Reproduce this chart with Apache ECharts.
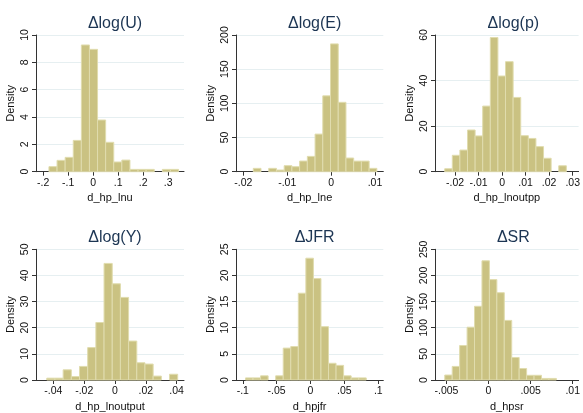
<!DOCTYPE html>
<html>
<head>
<meta charset="utf-8">
<script src="https://cdn.jsdelivr.net/npm/echarts@6/dist/echarts.min.js"></script>
<style>
html,body{margin:0;padding:0;background:#fff;}
#c{width:583px;height:413px;}
</style>
</head>
<body>
<div id="c"></div>
<script>
// ---- data ----
const titles = ['\u0394log(U)', '\u0394log(E)', '\u0394log(p)', '\u0394log(Y)', '\u0394JFR', '\u0394SR'];
const xNames = ['d_hp_lnu', 'd_hp_lne', 'd_hp_lnoutpp', 'd_hp_lnoutput', 'd_hpjfr', 'd_hpsr'];

// histogram bins: first edge and width per panel
const binStart = [-0.1772, -0.01773, -0.02438, -0.0443, -0.0960, -0.00520];
const binWidth = [0.0324, 0.00176, 0.00323, 0.005313, 0.01114, 0.000884];

// densities per bin
const densU = [0.37, 0.83, 1.05, 2.29, 9.27, 8.95, 3.78, 2.15, 0.71, 0.85, 0.17, 0.17, 0.17, 0, 0.17, 0.17];
const densE = [4.9, 0, 4.9, 2.4, 8.8, 7.3, 15.6, 22.4, 55, 111, 187, 101.5, 20, 15.5, 15.5, 4.9];
const densP = [1.3, 7.2, 9.5, 18.3, 15.7, 28.8, 58.9, 42, 48.3, 32.6, 15.8, 14.6, 11, 5.9, 0, 2.6];
const densY = [0.7, 0.7, 3.9, 1.3, 5.2, 12.4, 22, 44.6, 36.8, 31.6, 14.9, 6.6, 6.1, 1.5, 0, 2.2];
const densJFR = [0.4, 0.4, 0.8, 0, 0.8, 6.1, 6.4, 16.6, 23.3, 19.4, 10.2, 3.2, 2.8, 0.8, 0.4, 0.4];
const densSR = [9.5, 26, 66, 101, 141, 228, 192, 167, 114, 43, 22, 9, 9, 3, 3];
const densities = [densU, densE, densP, densY, densJFR, densSR];

// axes
const xTicks = [
  [-0.2, -0.1, 0, 0.1, 0.2, 0.3],
  [-0.02, -0.01, 0, 0.01],
  [-0.02, -0.01, 0, 0.01, 0.02, 0.03],
  [-0.04, -0.02, 0, 0.02, 0.04],
  [-0.1, -0.05, 0, 0.05, 0.1],
  [-0.005, 0, 0.005, 0.01]
];
const xMin = [-0.229, -0.02167, -0.0285, -0.0513, -0.110, -0.00636];
const xMax = [0.363, 0.0119, 0.0325, 0.0448, 0.1074, 0.0107];
const yMax = [10, 200, 60, 50, 25, 250];
const yStep = [2, 50, 20, 10, 5, 50];

// ---- layout ----
const gridPos = [
  {left: 36, top: 35, width: 148, height: 136.7},
  {left: 236, top: 35, width: 147.3, height: 136.7},
  {left: 435, top: 35, width: 146.7, height: 136.7},
  {left: 36, top: 249.3, width: 148, height: 136.7},
  {left: 236, top: 249.3, width: 147.3, height: 136.7},
  {left: 435, top: 249.3, width: 146.7, height: 136.7}
];
const titleTop = [11, 11, 11, 225, 225, 225];

const FONT = '"Liberation Sans", Arial, sans-serif';
const BAR_FILL = '#cac282';
const BAR_EDGE = '#e0dcae';
const AXIS_COL = '#333333';
const GRID_COL = '#e6eff1';
const TITLE_COL = '#1c3553';

function stataFmt(v) {
  if (v === 0) return '0';
  let s = String(+v.toPrecision(6));
  return s.replace(/^(-?)0\./, '$1.');
}

const grid = [], xAxis = [], yAxis = [], series = [], title = [];
for (let i = 0; i < 6; i++) {
  const g = gridPos[i];
  grid.push({left: g.left, top: g.top, width: g.width, height: g.height, containLabel: false});
  title.push({
    text: titles[i],
    left: g.left + g.width / 2,
    top: titleTop[i],
    textAlign: 'center',
    textStyle: {fontFamily: FONT, fontSize: 16, fontWeight: 'normal', color: TITLE_COL}
  });
  xAxis.push({
    type: 'value', gridIndex: i, min: xMin[i], max: xMax[i],
    name: xNames[i], nameLocation: 'middle', nameGap: 21,
    nameTextStyle: {fontFamily: FONT, fontSize: 11, color: '#111'},
    axisLine: {show: true, onZero: false, lineStyle: {color: AXIS_COL, width: 1}},
    axisTick: {show: true, length: 4, lineStyle: {color: AXIS_COL}, customValues: xTicks[i]},
    axisLabel: {customValues: xTicks[i], formatter: stataFmt, fontFamily: FONT, fontSize: 10.5, color: '#111', margin: 6},
    splitLine: {show: false}
  });
  yAxis.push({
    type: 'value', gridIndex: i, min: 0, max: yMax[i], interval: yStep[i],
    name: 'Density', nameLocation: 'middle', nameGap: 20, nameRotate: 90,
    nameTextStyle: {fontFamily: FONT, fontSize: 11, color: '#111'},
    axisLine: {show: true, onZero: false, lineStyle: {color: AXIS_COL, width: 1}},
    axisTick: {show: true, length: 4, lineStyle: {color: AXIS_COL}},
    axisLabel: {rotate: 90, fontFamily: FONT, fontSize: 10.5, color: '#111', margin: 5},
    splitLine: {show: true, lineStyle: {color: GRID_COL, width: 1}}
  });
  const d = densities[i];
  const data = d.map((h, k) => [binStart[i] + k * binWidth[i], binStart[i] + (k + 1) * binWidth[i], h]);
  series.push({
    type: 'custom', xAxisIndex: i, yAxisIndex: i, data: data,
    encode: {x: [0, 1], y: 2},
    renderItem: function (params, api) {
      const h = api.value(2);
      if (!(h > 0)) return null;
      const p0 = api.coord([api.value(0), h]);
      const p1 = api.coord([api.value(1), 0]);
      return {
        type: 'rect',
        shape: {x: p0[0], y: p0[1], width: p1[0] - p0[0], height: p1[1] - p0[1]},
        style: {fill: BAR_FILL, stroke: BAR_EDGE, lineWidth: 1}
      };
    }
  });
}

const chart = echarts.init(document.getElementById('c'), null, {renderer: 'canvas'});
chart.setOption({
  backgroundColor: '#ffffff',
  animation: false,
  title: title, grid: grid, xAxis: xAxis, yAxis: yAxis, series: series
});
</script>
</body>
</html>
